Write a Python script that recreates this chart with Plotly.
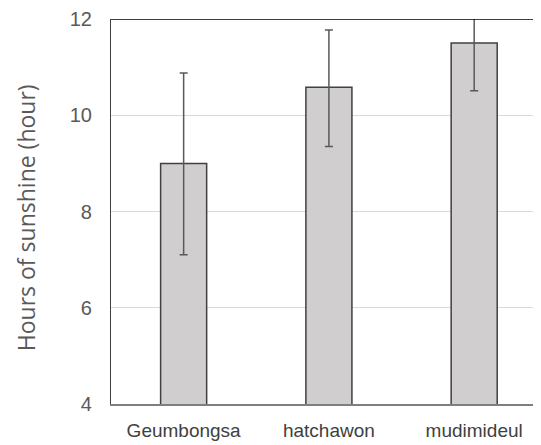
import plotly.graph_objects as go

sites = ["Geumbongsa", "hatchawon", "mudimideul"]
hours = [9.0, 10.58, 11.5]
err_plus = [1.88, 1.19, 1.0]
err_minus = [1.9, 1.23, 0.99]
y_ticks = [4, 6, 8, 10, 12]
y_title = "Hours of sunshine (hour)"

fig = go.Figure()
fig.add_trace(go.Bar(
    x=sites, y=hours, width=0.317,
    marker=dict(color="#d0cece", line=dict(color="#404040", width=1.5)),
    error_y=dict(type="data", symmetric=False, array=err_plus, arrayminus=err_minus,
                 color="#595959", thickness=1.5, width=4),
))

fig.add_shape(type="line", xref="paper", yref="y", x0=0, x1=1, y0=12, y1=12,
              line=dict(color="#000000", width=1.5))

fig.add_annotation(
    text=y_title, xref="paper", yref="paper", x=0, y=0.4826,
    xanchor="center", yanchor="middle", xshift=-85, textangle=-90,
    showarrow=False, font=dict(family="Open Sans, sans-serif", size=23, color="#595959"),
)

# page body has an 8px margin; compensate so the plot lands where the reference has it
fig.update_layout(
    width=533, height=437,
    margin=dict(l=103, r=0, t=9, b=40.5),
    paper_bgcolor="white", plot_bgcolor="white",
    showlegend=False,
    font=dict(family="Liberation Sans, Arial, sans-serif"),
)
fig.update_xaxes(
    range=[-0.5, 2.46], showline=True, linecolor="#7f7f7f", linewidth=1.5,
    showgrid=False, ticks="", ticklabelstandoff=8,
    tickfont=dict(size=19, color="#404040"),
)
fig.update_yaxes(
    range=[4, 12], tickvals=y_ticks, showline=True, linecolor="#404040", linewidth=1.2,
    gridcolor="#d9d9d9", gridwidth=1, zeroline=False, ticks="", ticklabelstandoff=14,
    ticklabeloverflow="allow",
    tickfont=dict(size=20, color="#595959"),
)

fig.write_html("out.html")
